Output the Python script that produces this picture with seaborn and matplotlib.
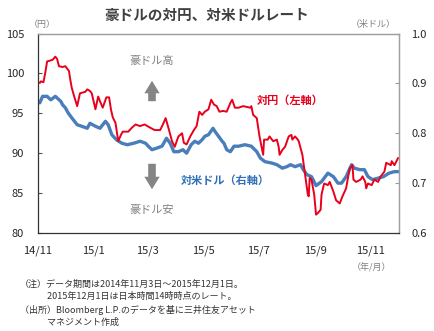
import matplotlib
matplotlib.use("Agg")
import matplotlib.pyplot as plt
import matplotlib.dates as mdates
import seaborn as sns
import pandas as pd

# ---- data ----
jpy_dates = [
    "2014-11-03", "2014-11-04", "2014-11-07", "2014-11-09", "2014-11-11", "2014-11-14",
    "2014-11-17", "2014-11-20", "2014-11-22", "2014-11-24", "2014-11-28", "2014-12-01",
    "2014-12-05", "2014-12-06", "2014-12-08", "2014-12-11", "2014-12-14", "2014-12-17",
    "2014-12-23", "2014-12-25", "2014-12-28", "2014-12-30", "2015-01-03", "2015-01-06",
    "2015-01-08", "2015-01-11", "2015-01-15", "2015-01-18", "2015-01-20", "2015-01-22",
    "2015-01-25", "2015-01-28", "2015-01-31", "2015-02-02", "2015-02-08", "2015-02-12",
    "2015-02-16", "2015-02-21", "2015-02-26", "2015-03-04", "2015-03-09", "2015-03-15",
    "2015-03-18", "2015-03-21", "2015-03-24", "2015-03-28", "2015-03-31", "2015-04-04",
    "2015-04-08", "2015-04-10", "2015-04-13", "2015-04-17", "2015-04-21", "2015-04-24",
    "2015-04-27", "2015-04-30", "2015-05-03", "2015-05-07", "2015-05-10", "2015-05-13",
    "2015-05-16", "2015-05-19", "2015-05-23", "2015-05-27", "2015-05-31", "2015-06-02",
    "2015-06-05", "2015-06-09", "2015-06-14", "2015-06-22", "2015-06-23", "2015-06-25",
    "2015-06-29", "2015-06-30", "2015-07-02", "2015-07-03", "2015-07-06", "2015-07-07",
    "2015-07-11", "2015-07-13", "2015-07-17", "2015-07-21", "2015-07-23", "2015-07-24",
    "2015-07-27", "2015-07-30", "2015-08-03", "2015-08-06", "2015-08-07", "2015-08-10",
    "2015-08-13", "2015-08-14", "2015-08-18", "2015-08-21", "2015-08-24", "2015-08-25",
    "2015-08-26", "2015-08-28", "2015-08-31", "2015-09-02", "2015-09-04", "2015-09-07",
    "2015-09-08", "2015-09-10", "2015-09-11", "2015-09-15", "2015-09-17", "2015-09-21",
    "2015-09-24", "2015-09-28", "2015-10-01", "2015-10-05", "2015-10-07", "2015-10-09",
    "2015-10-12", "2015-10-13", "2015-10-16", "2015-10-21", "2015-10-23", "2015-10-26",
    "2015-10-27", "2015-10-29", "2015-11-02", "2015-11-05", "2015-11-09", "2015-11-12",
    "2015-11-16", "2015-11-18", "2015-11-23", "2015-11-24", "2015-11-27", "2015-12-01",
]
jpy_values = [
    98.8, 99.0, 98.9, 100.1, 101.5, 101.6,
    101.7, 102.1, 101.8, 100.9, 100.8, 100.9,
    100.3, 99.5, 98.2, 97.0, 95.9, 97.5,
    97.7, 98.0, 97.8, 97.5, 95.5, 97.1,
    96.5, 95.7, 97.0, 97.0, 95.5, 94.5,
    93.8, 91.5, 92.3, 92.7, 92.7, 93.2,
    93.6, 93.4, 93.6, 93.2, 92.9, 92.9,
    93.6, 94.4, 93.2, 91.5, 90.8, 92.1,
    92.5, 91.3, 91.1, 92.1, 92.9, 93.4,
    95.2, 94.8, 95.2, 95.5, 96.7, 96.1,
    95.9, 95.2, 95.3, 95.2, 96.3, 96.7,
    95.7, 95.7, 95.9, 95.7, 95.9, 94.8,
    94.4, 93.6, 92.1, 91.5, 89.8, 91.7,
    91.7, 92.1, 91.5, 91.7, 90.8, 89.8,
    90.4, 90.8, 92.1, 92.3, 91.7, 92.1,
    91.7, 91.5, 89.8, 87.3, 84.8, 84.6,
    86.9, 86.7, 84.8, 82.3, 82.5, 82.9,
    84.8, 85.8, 86.2, 86.0, 86.4, 85.2,
    84.1, 83.7, 84.6, 85.6, 86.9, 88.1,
    88.5, 86.7, 86.4, 86.7, 87.1, 86.4,
    85.6, 86.2, 86.0, 86.7, 86.4, 87.1,
    87.7, 88.8, 88.5, 89.0, 88.5, 89.4,
]

usd_dates = [
    "2014-11-03", "2014-11-06", "2014-11-11", "2014-11-15", "2014-11-20", "2014-11-26",
    "2014-11-28", "2014-12-01", "2014-12-04", "2014-12-08", "2014-12-14", "2014-12-19",
    "2014-12-25", "2014-12-28", "2015-01-03", "2015-01-08", "2015-01-14", "2015-01-17",
    "2015-01-21", "2015-01-26", "2015-02-01", "2015-02-07", "2015-02-14", "2015-02-21",
    "2015-02-27", "2015-03-02", "2015-03-06", "2015-03-11", "2015-03-17", "2015-03-22",
    "2015-03-26", "2015-03-30", "2015-04-04", "2015-04-09", "2015-04-13", "2015-04-18",
    "2015-04-22", "2015-04-26", "2015-04-30", "2015-05-03", "2015-05-07", "2015-05-12",
    "2015-05-14", "2015-05-18", "2015-05-22", "2015-05-24", "2015-05-27", "2015-05-31",
    "2015-06-04", "2015-06-09", "2015-06-16", "2015-06-23", "2015-06-29", "2015-07-03",
    "2015-07-08", "2015-07-16", "2015-07-21", "2015-07-27", "2015-08-01", "2015-08-05",
    "2015-08-10", "2015-08-16", "2015-08-19", "2015-08-23", "2015-08-28", "2015-09-02",
    "2015-09-08", "2015-09-15", "2015-09-21", "2015-09-26", "2015-09-30", "2015-10-05",
    "2015-10-11", "2015-10-14", "2015-10-20", "2015-10-25", "2015-10-29", "2015-11-03",
    "2015-11-09", "2015-11-15", "2015-11-21", "2015-11-27", "2015-12-01",
]
usd_values = [
    0.861, 0.874, 0.874, 0.867, 0.874, 0.864,
    0.857, 0.851, 0.841, 0.831, 0.817, 0.814,
    0.810, 0.820, 0.814, 0.810, 0.824, 0.817,
    0.797, 0.787, 0.780, 0.777, 0.780, 0.784,
    0.780, 0.774, 0.767, 0.770, 0.774, 0.790,
    0.780, 0.763, 0.763, 0.767, 0.760, 0.777,
    0.784, 0.780, 0.787, 0.794, 0.797, 0.810,
    0.804, 0.794, 0.784, 0.780, 0.767, 0.763,
    0.774, 0.774, 0.777, 0.774, 0.763, 0.750,
    0.743, 0.740, 0.737, 0.730, 0.733, 0.737,
    0.733, 0.737, 0.727, 0.717, 0.713, 0.695,
    0.703, 0.720, 0.713, 0.700, 0.700, 0.713,
    0.737, 0.730, 0.727, 0.727, 0.713, 0.707,
    0.710, 0.713, 0.720, 0.723, 0.723,
]

tick_dates = ["2014-11-01", "2015-01-01", "2015-03-01", "2015-05-01",
              "2015-07-01", "2015-09-01", "2015-11-01"]
tick_labels = ["14/11", "15/1", "15/3", "15/5", "15/7", "15/9", "15/11"]
left_ticks = [80, 85, 90, 95, 100, 105]
right_ticks = [0.6, 0.7, 0.8, 0.9, 1.0]

title = "豪ドルの対円、対米ドルレート"
notes = [
    "（注）データ期間は2014年11月3日～2015年12月1日。",
    "　　　2015年12月1日は日本時間14時時点のレート。",
    "（出所）Bloomberg L.P.のデータを基に三井住友アセット",
    "　　　マネジメント作成",
]

# ---- style ----
sns.set_theme(style="white")
plt.rcParams["font.family"] = ["Noto Sans CJK JP", "DejaVu Sans"]

RED = "#e8001c"
BLUE = "#4a7ebb"
GRAY = "#808080"
TXT = "#262626"

W, H = 434, 331
fig = plt.figure(figsize=(W / 100, H / 100), dpi=100)
L, R, T, B = 38, 399, 33.5, 233
ax = fig.add_axes([L / W, 1 - B / H, (R - L) / W, (B - T) / H])
ax2 = ax.twinx()

df_j = pd.DataFrame({"date": pd.to_datetime(jpy_dates), "val": jpy_values})
df_u = pd.DataFrame({"date": pd.to_datetime(usd_dates), "val": usd_values})

sns.lineplot(data=df_j, x="date", y="val", ax=ax, color=RED, linewidth=1.4)
sns.lineplot(data=df_u, x="date", y="val", ax=ax2, color=BLUE, linewidth=2.4)
ax.set_zorder(ax2.get_zorder() + 1)
ax.patch.set_visible(False)

ax.set_xlim(pd.Timestamp("2014-11-01"), pd.Timestamp("2015-12-02"))
ax.set_ylim(80, 105)
ax2.set_ylim(0.6, 1.0)

ax.set_xticks(pd.to_datetime(tick_dates))
ax.set_xticklabels(tick_labels)
ax.set_yticks(left_ticks)
ax.set_yticklabels([str(v) for v in left_ticks])
ax2.set_yticks(right_ticks)
ax2.set_yticklabels([f"{v:.1f}" for v in right_ticks])
for a in (ax, ax2):
    a.set_xlabel("")
    a.set_ylabel("")

ax.tick_params(axis="x", direction="in", length=4, width=0.8, color="#333333",
               labelsize=8, labelcolor=TXT, pad=9, top=False)
ax.tick_params(axis="y", direction="in", length=3, width=0.8, color="#555555",
               labelsize=8, labelcolor=TXT, pad=10)
ax2.tick_params(axis="y", direction="in", length=3, width=0.8, color="#999999",
                labelsize=8, labelcolor=TXT, pad=9)

for a in (ax, ax2):
    a.spines["left"].set_color("#333333")
    a.spines["bottom"].set_color("#333333")
    a.spines["top"].set_color("#a0a0a0")
    a.spines["right"].set_color("#a0a0a0")
    for s in a.spines.values():
        s.set_linewidth(0.9)
ax2.spines["left"].set_visible(False)
ax2.spines["bottom"].set_visible(False)


def fx(x):
    return x / W


def fy(y):
    return 1 - y / H


fig.text(fx(207), fy(15), title, ha="center", va="center", fontsize=10.5,
         fontweight="bold", color="#404040")
fig.text(fx(42), fy(24), "（円）", ha="center", va="center", fontsize=6.5, color=GRAY)
fig.text(fx(373), fy(24), "（米ドル）", ha="center", va="center", fontsize=6.5, color=GRAY)
fig.text(fx(372), fy(268), "（年/月）", ha="center", va="center", fontsize=6.5, color=GRAY)

fig.text(fx(290), fy(100), "対円（左軸）", ha="center", va="center", fontsize=8,
         fontweight="bold", color=RED)
fig.text(fx(225), fy(180), "対米ドル（右軸）", ha="center", va="center", fontsize=8,
         fontweight="bold", color="#2f6fb8")

fig.text(fx(152), fy(61), "豪ドル高", ha="center", va="center", fontsize=8, color=GRAY)
fig.text(fx(152), fy(210), "豪ドル安", ha="center", va="center", fontsize=8, color=GRAY)

arrow_style = dict(arrowstyle="simple,head_length=0.9,head_width=1.1,tail_width=0.55",
                   color="#858585", lw=0)
fig.add_artist(matplotlib.patches.FancyArrowPatch(
    (fx(152), fy(104)), (fx(152), fy(78)), transform=fig.transFigure,
    mutation_scale=10, **arrow_style))
fig.add_artist(matplotlib.patches.FancyArrowPatch(
    (fx(152), fy(161)), (fx(152), fy(192)), transform=fig.transFigure,
    mutation_scale=10, **arrow_style))

note_pos = [(20, 284), (20, 296), (20, 310), (20, 322)]
for (nx, ny), s in zip(note_pos, notes):
    fig.text(fx(nx), fy(ny), s, ha="left", va="center", fontsize=6.5, color="#333333")

fig.savefig("out.png", dpi=100)
